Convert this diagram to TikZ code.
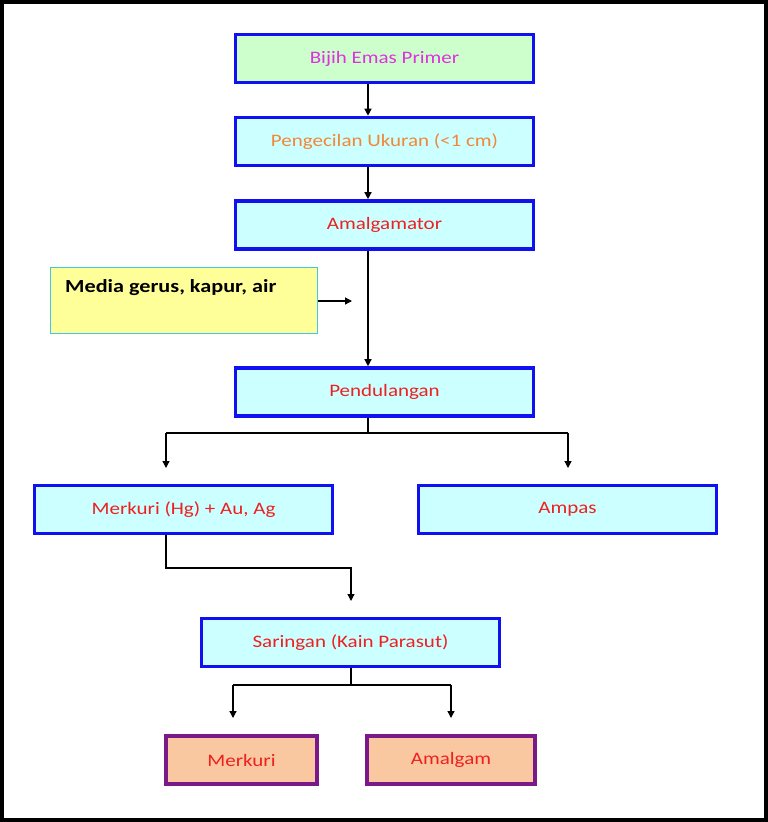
\documentclass[tikz,border=0pt]{standalone}
\usepackage{fontspec}
\setmainfont[FakeStretch=1.2]{Carlito}
\usetikzlibrary{arrows.meta}
\definecolor{bblue}{HTML}{1010F0}
\definecolor{lgreen}{HTML}{CCFFCC}
\definecolor{lcyan}{HTML}{CCFFFF}
\definecolor{lyellow}{HTML}{FFFF99}
\definecolor{ycyan}{HTML}{40C8E0}
\definecolor{peach}{HTML}{FAC8A0}
\definecolor{purp}{HTML}{7A1A88}
\definecolor{tred}{HTML}{EE2020}
\definecolor{tmag}{HTML}{E030E0}
\definecolor{torange}{HTML}{F08838}
\tikzset{
  box/.style={draw=bblue, line width=3.6pt, fill=lcyan, minimum width=298pt, minimum height=48pt, inner sep=0pt, font=\fontsize{17.5}{20}\selectfont, text=tred},
  endbox/.style={draw=purp, line width=4.2pt, fill=peach, minimum height=48pt, inner sep=0pt, font=\fontsize{17.5}{20}\selectfont, text=tred},
  conn/.style={line width=1.3pt, -{Triangle[length=7pt,width=7pt]}},
  plain/.style={line width=1.3pt}
}
\begin{document}
\begin{tikzpicture}[x=1pt,y=-1pt]
\useasboundingbox (0,0) rectangle (768,822);
\draw[line width=4pt] (2,2) rectangle (766,820);
\node[box, fill=lgreen, text=tmag] (bijih) at (384.5,58.5) {Bijih Emas Primer};
\node[box, text=torange] (peng) at (384.5,141.5) {Pengecilan Ukuran (<1 cm)};
\node[box] (amal) at (384.5,225) {Amalgamator};
\node[draw=ycyan, line width=1.5pt, fill=lyellow, minimum width=267pt, minimum height=66pt, inner sep=0pt] (media) at (184,300.5) {};
\node[anchor=west, font=\fontsize{18.5}{21}\selectfont\bfseries, inner sep=0pt] (mediat) at (65,288) {Media gerus, kapur, air};
\coordinate (mediaend) at (352,301);
\node[box] (pend) at (384.5,392) {Pendulangan};
\node[box] (merhg) at (183.5,509.5) {Merkuri (Hg) + Au, Ag};
\node[box] (ampas) at (567.5,509.5) {Ampas};
\node[box] (sar) at (350.5,642.5) {Saringan (Kain Parasut)};
\node[endbox, minimum width=151pt] (merk) at (241.5,760) {Merkuri};
\node[endbox, minimum width=168pt] (amg) at (451,760) {Amalgam};

\draw[conn] (bijih.south -| 368,0) -- (peng.north -| 368,0);
\draw[conn] (peng.south -| 368,0) -- (amal.north -| 368,0);
\draw[conn] (amal.south -| 368,0) -- (pend.north -| 368,0);
\draw[conn] (media.east |- mediaend) -- (mediaend);
\draw[plain] (pend.south -| 368,0) -- (368,433) -- (166,433);
\draw[plain] (368,433) -- (568,433);
\draw[conn] (166,433) -- (166,468);
\draw[conn] (568,433) -- (568,468);
\draw[conn] (merhg.south -| 166,0) -- (166,568) -- (351,568) -- (351,601);
\draw[plain] (sar.south -| 351,0) -- (351,685) -- (233,685);
\draw[plain] (351,685) -- (451,685);
\draw[conn] (233,685) -- (233,718);
\draw[conn] (451,685) -- (451,718);
\end{tikzpicture}
\end{document}
